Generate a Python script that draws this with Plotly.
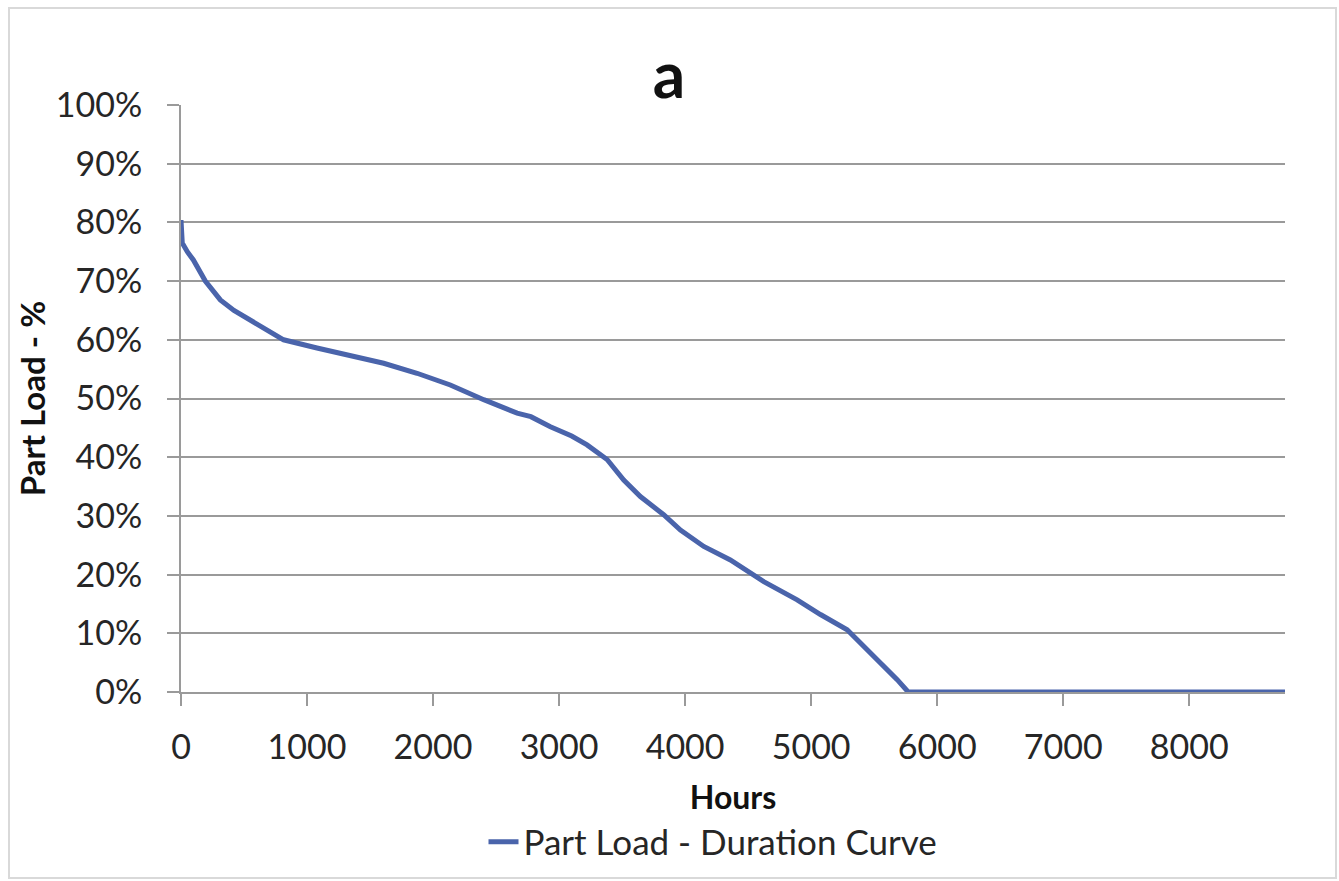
import plotly.graph_objects as go

# Data
hours = [0, 10, 50, 98, 193, 250, 312, 420, 550, 680, 814, 1079, 1344, 1608,
         1873, 2137, 2402, 2667, 2776, 2931, 3100, 3222, 3381, 3513, 3645,
         3830, 3963, 4148, 4359, 4518, 4624, 4889, 5074, 5286, 5418, 5576,
         5683, 5770, 8760]
part_load = [80.4, 76.5, 75.0, 73.6, 70.0, 68.3, 66.8, 65.0, 63.4, 61.6, 60.0,
             58.6, 57.4, 56.0, 54.3, 52.3, 49.8, 47.5, 46.9, 45.2, 43.6, 42.1,
             39.6, 36.1, 33.3, 30.2, 27.6, 24.8, 22.5, 20.3, 18.8, 15.7, 13.2,
             10.6, 7.8, 4.4, 2.1, 0.0, 0.0]
x_ticks = [0, 1000, 2000, 3000, 4000, 5000, 6000, 7000, 8000]
y_ticks = [0, 10, 20, 30, 40, 50, 60, 70, 80, 90, 100]

FONT = "Lato"
TXT = "#262626"
GRID = "#9a9a9a"
W, H = 1339, 881
L, R, T, B = 181, 54, 105, 189
pw, ph = W - L - R, H - T - B

def px_x(px):
    return (px - L) / pw

def px_y(py):
    return (H - B - py) / ph

fig = go.Figure()
fig.add_trace(go.Scatter(
    x=hours, y=part_load, mode="lines",
    name="Part Load - Duration Curve",
    line=dict(color="#4a64ab", width=5),
))

fig.update_layout(
    width=W, height=H,
    margin=dict(l=L, r=R, t=T, b=B, autoexpand=False),
    paper_bgcolor="white", plot_bgcolor="white",
    font=dict(family=FONT, color=TXT, size=34),
    title=dict(text="<b>a</b>", x=669 / W, xref="container", xanchor="center",
               y=1 - 76 / H, yref="container", yanchor="middle",
               font=dict(size=64, color="#111111", family=FONT)),
    showlegend=True,
    legend=dict(orientation="h", x=px_x(713), y=px_y(842), xanchor="center",
                yanchor="middle", font=dict(size=35, color=TXT, family=FONT),
                bgcolor="rgba(0,0,0,0)"),
    xaxis=dict(
        range=[0, 8760], tickvals=x_ticks, ticktext=[str(v) for v in x_ticks],
        showgrid=False, zeroline=False,
        showline=True, linecolor=GRID, linewidth=2,
        ticks="outside", ticklen=12, tickwidth=2, tickcolor=GRID,
        ticklabelstandoff=12,
        tickfont=dict(size=34, color=TXT, family=FONT),
        title=dict(text="<b>Hours</b>", standoff=22,
                   font=dict(size=32, color="#111111", family=FONT)),
    ),
    yaxis=dict(
        range=[0, 100], tickvals=y_ticks, ticktext=[f"{v}%" for v in y_ticks],
        showgrid=True, gridcolor=GRID, gridwidth=2,
        zeroline=False,
        showline=True, linecolor=GRID, linewidth=2,
        ticks="outside", ticklen=12, tickwidth=2, tickcolor=GRID,
        ticklabelstandoff=18,
        tickfont=dict(size=34, color=TXT, family=FONT),
        title=dict(text="<b>Part Load - %</b>", standoff=0,
                   font=dict(size=33, color="#111111", family=FONT)),
    ),
    shapes=[dict(type="rect", xref="paper", yref="paper",
                 x0=px_x(9), x1=px_x(1336), y0=px_y(878), y1=px_y(8),
                 line=dict(color="#d9d9d9", width=2), layer="below")],
)

fig.write_html("out.html")
